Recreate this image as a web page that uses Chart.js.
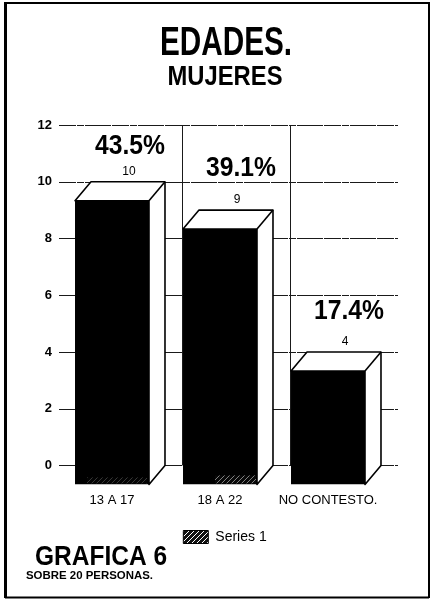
<!DOCTYPE html>
<html><head><meta charset="utf-8">
<style>html,body{margin:0;padding:0;background:#fff}canvas{display:block}</style>
<script src="https://cdn.jsdelivr.net/npm/chart.js@4/dist/chart.umd.min.js"></script>
</head><body><canvas id="c" width="434" height="604"></canvas>
<script>
const categories = ["13 A 17", "18 A 22", "NO CONTESTO."];
const seriesValues = [10, 9, 4];
const percentLabels = ["43.5%", "39.1%", "17.4%"];
const tickValues = [0, 2, 4, 6, 8, 10, 12];
const seriesName = "Series 1";

const DX = 16, DY = 19, UNIT_SPAN = 12.67;
const PCT_LIFT = [35, 42, 40];
const PCT_SHIFT = [18, 21, 21];
const SANS = '"Liberation Sans",Arial,sans-serif';

function hatch() {
  const p = document.createElement('canvas'); p.width = 5; p.height = 5;
  const g = p.getContext('2d');
  g.fillStyle = '#111'; g.fillRect(0, 0, 5, 5);
  g.strokeStyle = '#fff'; g.lineWidth = 1;
  g.beginPath(); g.moveTo(0, 5); g.lineTo(5, 0); g.moveTo(-2, 2); g.lineTo(2, -2); g.moveTo(3, 7); g.lineTo(7, 3); g.stroke();
  return g.createPattern(p, 'repeat');
}
const hatchFill = hatch();

// Draw text squeezed horizontally to a target width (the original face is condensed)
function fitText(c, text, x, y, font, width, align) {
  c.save();
  c.font = font;
  const w = c.measureText(text).width, k = width / w;
  c.textAlign = 'left'; c.textBaseline = 'middle';
  c.translate(align === 'center' ? x - width / 2 : x, y);
  c.scale(k, 1);
  c.fillText(text, 0, 0);
  c.restore();
}

const wall = {
  id: 'wall',
  afterLayout(chart) { chart.legend.left += 30; chart.legend.right += 30; },
  beforeDatasetsDraw(chart) {
    const c = chart.ctx, y = chart.scales.y, x = chart.scales.x, a = chart.chartArea;
    c.save();
    c.strokeStyle = '#1a1a1a'; c.lineWidth = 1;
    c.setLineDash([17, 1, 7, 1, 26, 1]);
    y.ticks.forEach(t => {
      const py = Math.round(y.getPixelForValue(t.value)) + .5;
      c.beginPath(); c.moveTo(a.left + 1, py); c.lineTo(a.right + DX, py); c.stroke();
    });
    c.setLineDash([]);
    const half = (x.getPixelForValue(1) - x.getPixelForValue(0)) / 2;
    [0, 1].forEach(i => {
      const px = Math.round(x.getPixelForValue(i) + half + DX) + .5;
      c.beginPath(); c.moveTo(px, y.getPixelForValue(12)); c.lineTo(px, y.getPixelForValue(0)); c.stroke();
    });
    c.lineWidth = 1.6; c.strokeStyle = '#000'; c.fillStyle = '#fff'; c.lineJoin = 'round';
    chart.getDatasetMeta(0).data.forEach(b => {
      const l = b.x - b.width / 2, r = b.x + b.width / 2, t = b.y, bt = b.base;
      c.beginPath();
      c.moveTo(l, t); c.lineTo(l + DX, t - DY); c.lineTo(r + DX, t - DY);
      c.lineTo(r + DX, bt - DY); c.lineTo(r, bt); c.lineTo(r, t); c.closePath();
      c.fill(); c.stroke();
      c.beginPath(); c.moveTo(r, t); c.lineTo(r + DX, t - DY); c.stroke();
    });
    c.restore();
  },
  afterDatasetsDraw(chart) {
    const c = chart.ctx;
    c.save();
    c.textAlign = 'center'; c.textBaseline = 'middle'; c.fillStyle = '#000';
    chart.getDatasetMeta(0).data.forEach((b, i) => {
      c.font = '12px ' + SANS;
      c.fillText(String(seriesValues[i]), b.x + 17, b.y - DY - 10);
      fitText(c, percentLabels[i], b.x + PCT_SHIFT[i], b.y - DY - PCT_LIFT[i], 'bold 27px ' + SANS, 70, 'center');
    });
    [0, 1].forEach(i => {
      const b = chart.getDatasetMeta(0).data[i];
      c.save(); c.globalAlpha = i ? .5 : .22; c.fillStyle = hatchFill;
      if (i) c.fillRect(b.x - 5, b.base - 9, 41, 8);
      else c.fillRect(b.x - 25, b.base - 7, 60, 6);
      c.restore();
    });
    fitText(c, 'EDADES.', 226, 44, 'bold 41px ' + SANS, 132, 'center');
    fitText(c, 'MUJERES', 225, 77, 'bold 28px ' + SANS, 115, 'center');
    fitText(c, 'GRAFICA 6', 35, 557, 'bold 28px ' + SANS, 132, 'left');
    fitText(c, 'SOBRE 20 PERSONAS.', 26, 576, 'bold 11px ' + SANS, 127, 'left');
    c.strokeStyle = '#000'; c.setLineDash([]);
    c.lineWidth = 3; c.beginPath(); c.moveTo(5.5, 2); c.lineTo(5.5, 598); c.stroke();
    c.lineWidth = 2; c.beginPath(); c.moveTo(5, 3); c.lineTo(429, 3); c.lineTo(429, 598); c.stroke();
    c.lineWidth = 2; c.beginPath(); c.moveTo(5, 597.5); c.lineTo(429, 597.5); c.stroke();
    c.restore();
  }
};

new Chart(document.getElementById('c'), {
  type: 'bar',
  plugins: [wall],
  data: {
    labels: categories,
    datasets: [{
      label: seriesName, data: seriesValues, yAxisID: 'yBars',
      backgroundColor: '#000', borderWidth: 0,
      barPercentage: 0.685, categoryPercentage: 1
    }]
  },
  options: {
    responsive: false, animation: false,
    layout: { padding: { left: 8, right: 52, top: 125, bottom: 50 } },
    plugins: {
      tooltip: { enabled: false },
      legend: {
        position: 'bottom',
        labels: {
          boxWidth: 25, boxHeight: 13, padding: 16, color: '#000',
          font: { family: SANS, size: 14 },
          generateLabels: ch => [{ text: seriesName, fillStyle: hatchFill, strokeStyle: '#000', lineWidth: 1, datasetIndex: 0, fontColor: '#000' }]
        }
      }
    },
    scales: {
      x: {
        grid: { display: false }, border: { display: false },
        afterFit: s => { s.height += 6; },
        ticks: { color: '#000', font: { family: SANS, size: 13 }, padding: 0, autoSkip: false, maxRotation: 0 }
      },
      y: {
        min: 12 - UNIT_SPAN, max: 12,
        grid: { display: false, drawTicks: false }, border: { display: false },
        afterBuildTicks: s => { s.ticks = tickValues.map(v => ({ value: v })); },
        afterFit: s => { s.width = 50; },
        ticks: { color: '#000', font: { family: SANS, size: 13, weight: 'bold' }, padding: 6, callback: v => String(v) }
      },
      yBars: {
        display: false, min: 0, max: UNIT_SPAN
      }
    }
  }
});
</script></body></html>
